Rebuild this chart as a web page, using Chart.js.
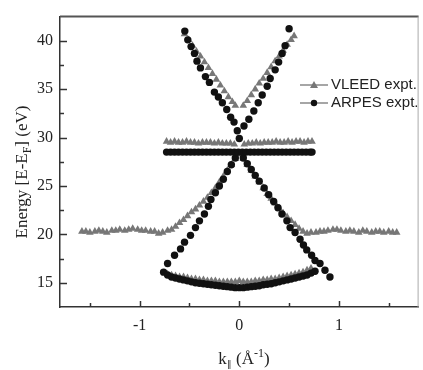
<!DOCTYPE html>
<html>
<head>
<meta charset="utf-8">
<script src="https://cdn.jsdelivr.net/npm/chart.js@4/dist/chart.umd.min.js"></script>
<style>
  html, body { margin: 0; padding: 0; background: #fff; }
  #wrap { width: 423px; height: 370px; position: relative; }
</style>
</head>
<body>
<div id="wrap"><canvas id="bands"></canvas></div>
<script>
// k (1/Å), E (eV) pairs, one array per branch

// VLEED (triangles)
var vleedFlatLeft = [[-1.58, 20.3], [-1.54, 20.3], [-1.50, 20.2], [-1.45, 20.3], [-1.41, 20.4], [-1.37, 20.3], [-1.33, 20.2],
  [-1.28, 20.4], [-1.24, 20.4], [-1.20, 20.5], [-1.15, 20.4], [-1.11, 20.5], [-1.07, 20.6], [-1.02, 20.5], [-0.98, 20.4],
  [-0.94, 20.4], [-0.89, 20.3], [-0.85, 20.3], [-0.81, 20.1], [-0.77, 20.2], [-0.72, 20.4]];
var vleedRiseLeft = [[-0.68, 20.5], [-0.64, 20.8], [-0.60, 21.2], [-0.56, 21.5], [-0.52, 21.9], [-0.48, 22.3], [-0.44, 22.6],
  [-0.40, 23.0], [-0.36, 23.4], [-0.32, 23.8], [-0.28, 24.3], [-0.24, 24.8], [-0.20, 25.4], [-0.16, 26.0], [-0.12, 26.6],
  [-0.08, 27.2], [-0.04, 27.8], [0.00, 28.3]];
var vleedFallRight = [[0.04, 27.8], [0.08, 27.2], [0.12, 26.6], [0.16, 26.0], [0.20, 25.4], [0.24, 24.8], [0.28, 24.2],
  [0.32, 23.7], [0.36, 23.2], [0.40, 22.7], [0.44, 22.2], [0.48, 21.8], [0.52, 21.4], [0.56, 21.0], [0.60, 20.6], [0.64, 20.3]];
var vleedFlatRight = [[0.68, 20.1], [0.72, 20.2], [0.77, 20.2], [0.81, 20.3], [0.85, 20.3], [0.89, 20.4], [0.94, 20.5],
  [0.98, 20.5], [1.02, 20.4], [1.07, 20.3], [1.11, 20.4], [1.15, 20.3], [1.20, 20.2], [1.24, 20.4], [1.28, 20.3],
  [1.33, 20.2], [1.37, 20.3], [1.41, 20.3], [1.45, 20.2], [1.50, 20.3], [1.54, 20.2], [1.58, 20.2]];
var vleedUpperLeft = [[-0.55, 40.7], [-0.51, 40.1], [-0.47, 39.5], [-0.43, 38.9], [-0.39, 38.4], [-0.35, 37.8], [-0.31, 37.2],
  [-0.27, 36.6], [-0.23, 36.0], [-0.19, 35.4], [-0.15, 34.8], [-0.11, 34.2], [-0.07, 33.7], [-0.04, 33.3]];
var vleedUpperRight = [[0.04, 33.3], [0.08, 33.8], [0.12, 34.4], [0.16, 35.0], [0.20, 35.6], [0.24, 36.1], [0.28, 36.7],
  [0.32, 37.3], [0.36, 37.9], [0.40, 38.4], [0.44, 39.0], [0.48, 39.6], [0.52, 40.1], [0.55, 40.5]];
var vleedFlat29 = [[-0.73, 29.6], [-0.69, 29.5], [-0.65, 29.6], [-0.61, 29.5], [-0.57, 29.5], [-0.53, 29.6], [-0.49, 29.5],
  [-0.45, 29.5], [-0.41, 29.4], [-0.37, 29.5], [-0.33, 29.5], [-0.29, 29.5], [-0.25, 29.4], [-0.21, 29.5], [-0.17, 29.4],
  [-0.13, 29.4], [-0.09, 29.4], [-0.05, 29.3], [0.05, 29.3], [0.09, 29.4], [0.13, 29.4], [0.17, 29.5], [0.21, 29.4],
  [0.25, 29.5], [0.29, 29.5], [0.33, 29.5], [0.37, 29.6], [0.41, 29.5], [0.45, 29.5], [0.49, 29.6], [0.53, 29.5],
  [0.57, 29.6], [0.61, 29.6], [0.65, 29.5], [0.69, 29.6], [0.73, 29.6]];
var vleedBottom = [[-0.72, 15.9], [-0.68, 15.8], [-0.64, 15.7], [-0.60, 15.6], [-0.56, 15.6], [-0.52, 15.5], [-0.48, 15.4],
  [-0.44, 15.4], [-0.40, 15.3], [-0.36, 15.3], [-0.32, 15.2], [-0.28, 15.2], [-0.24, 15.2], [-0.20, 15.1], [-0.16, 15.1],
  [-0.12, 15.1], [-0.08, 15.1], [-0.04, 15.1], [0.00, 15.2], [0.04, 15.1], [0.08, 15.1], [0.12, 15.1], [0.16, 15.2],
  [0.20, 15.2], [0.24, 15.3], [0.28, 15.3], [0.32, 15.4], [0.36, 15.4], [0.40, 15.5], [0.44, 15.6], [0.48, 15.7],
  [0.52, 15.8], [0.56, 15.9], [0.60, 16.0], [0.64, 16.1], [0.68, 16.3], [0.72, 16.5]];

// ARPES (circles)
var arpesUpperLeft = [[-0.547, 41.0], [-0.517, 40.1], [-0.484, 39.4], [-0.45, 38.7], [-0.425, 37.9], [-0.39, 37.2],
  [-0.34, 36.3], [-0.30, 35.7], [-0.25, 34.7], [-0.21, 34.2], [-0.17, 33.6], [-0.126, 32.9], [-0.087, 32.1],
  [-0.053, 31.6], [-0.02, 30.7], [0.00, 29.9]];
var arpesUpperRight = [[0.047, 31.2], [0.096, 31.9], [0.146, 32.75], [0.19, 33.6], [0.23, 34.4], [0.28, 35.3],
  [0.31, 36.1], [0.36, 37.0], [0.395, 37.8], [0.43, 38.7], [0.46, 39.5], [0.50, 41.25]];
var arpesRiseLeft = [[-0.72, 17.0], [-0.65, 17.85], [-0.59, 18.5], [-0.55, 19.2], [-0.49, 19.9], [-0.44, 20.7],
  [-0.40, 21.4], [-0.35, 22.1], [-0.31, 22.9], [-0.285, 23.6], [-0.24, 24.3], [-0.20, 25.0], [-0.16, 25.7],
  [-0.12, 26.5], [-0.08, 27.2], [-0.04, 27.9]];
var arpesFallRight = [[0.04, 27.9], [0.08, 27.3], [0.12, 26.7], [0.16, 26.1], [0.20, 25.5], [0.25, 24.8], [0.295, 24.1],
  [0.345, 23.4], [0.388, 22.75], [0.428, 22.1], [0.478, 21.4], [0.51, 20.7], [0.56, 20.2], [0.61, 19.5], [0.644, 18.9],
  [0.677, 18.4], [0.726, 17.85], [0.76, 17.3], [0.81, 17.0], [0.86, 16.3], [0.91, 15.6]];
var arpesFlat28 = [[-0.73, 28.5], [-0.69, 28.5], [-0.65, 28.5], [-0.61, 28.5], [-0.57, 28.5], [-0.53, 28.5], [-0.49, 28.5],
  [-0.45, 28.5], [-0.41, 28.5], [-0.37, 28.5], [-0.33, 28.5], [-0.29, 28.5], [-0.25, 28.5], [-0.21, 28.5], [-0.17, 28.5],
  [-0.13, 28.5], [-0.09, 28.5], [-0.05, 28.5], [-0.01, 28.5], [0.03, 28.5], [0.07, 28.5], [0.11, 28.5], [0.15, 28.5],
  [0.19, 28.5], [0.23, 28.5], [0.27, 28.5], [0.31, 28.5], [0.35, 28.5], [0.39, 28.5], [0.43, 28.5], [0.47, 28.5],
  [0.51, 28.5], [0.55, 28.5], [0.59, 28.5], [0.63, 28.5], [0.67, 28.5], [0.71, 28.5], [0.73, 28.5]];
var arpesBottom = [[-0.76, 16.1], [-0.72, 15.8], [-0.68, 15.6], [-0.64, 15.5], [-0.60, 15.4], [-0.56, 15.3], [-0.52, 15.2],
  [-0.48, 15.1], [-0.44, 15.0], [-0.40, 14.95], [-0.36, 14.9], [-0.32, 14.85], [-0.28, 14.8], [-0.24, 14.75],
  [-0.20, 14.7], [-0.16, 14.65], [-0.12, 14.6], [-0.08, 14.55], [-0.04, 14.5], [0.00, 14.5], [0.04, 14.5],
  [0.08, 14.55], [0.12, 14.6], [0.16, 14.65], [0.20, 14.7], [0.24, 14.8], [0.28, 14.85], [0.32, 14.9], [0.36, 15.0],
  [0.40, 15.1], [0.44, 15.2], [0.48, 15.3], [0.52, 15.4], [0.56, 15.5], [0.60, 15.6], [0.64, 15.7], [0.68, 15.8],
  [0.72, 16.0], [0.76, 16.2]];

// axis ticks
var xTicks = [-1.5, -1, -0.5, 0, 0.5, 1, 1.5];
var yTicks = [15, 17.5, 20, 22.5, 25, 27.5, 30, 32.5, 35, 37.5, 40];

function toPoints(branches) {
  var out = [];
  branches.forEach(function(b) {
    b.forEach(function(p) { out.push({ x: p[0], y: p[1] }); });
  });
  return out;
}

var vleedColor = '#777777';
var arpesColor = '#111111';

// box, inward ticks, axis titles and legend
var decorations = {
  id: 'decorations',
  afterDraw: function(chart) {
    var ctx = chart.ctx;
    var a = chart.chartArea;
    var xs = chart.scales.x, ys = chart.scales.y;
    ctx.save();

    ctx.strokeStyle = '#555';
    ctx.lineWidth = 2;
    ctx.beginPath();
    ctx.moveTo(a.left, a.top);
    ctx.lineTo(a.right, a.top);
    ctx.stroke();
    ctx.strokeStyle = '#aaa';
    ctx.lineWidth = 1;
    ctx.beginPath();
    ctx.moveTo(a.right - 0.5, a.top);
    ctx.lineTo(a.right - 0.5, a.bottom);
    ctx.stroke();

    ctx.strokeStyle = '#333';
    ctx.lineWidth = 1.5;
    xTicks.forEach(function(v) {
      var px = Math.round(xs.getPixelForValue(v)) + 0.5;
      var len = Number.isInteger(v) ? 6 : 4;
      ctx.beginPath();
      ctx.moveTo(px, a.bottom);
      ctx.lineTo(px, a.bottom - len);
      ctx.stroke();
    });
    yTicks.forEach(function(v) {
      var py = Math.round(ys.getPixelForValue(v)) + 0.5;
      var len = v % 5 === 0 ? 7 : 4;
      ctx.beginPath();
      ctx.moveTo(a.left, py);
      ctx.lineTo(a.left + len, py);
      ctx.stroke();
    });

    // axis titles with sub/superscripts
    function rich(parts, cx, cy) {
      var w = 0;
      parts.forEach(function(p) {
        ctx.font = p.size + 'px "Liberation Serif"';
        p.w = ctx.measureText(p.t).width;
        w += p.w;
      });
      var x = cx - w / 2;
      ctx.textBaseline = 'alphabetic';
      ctx.textAlign = 'left';
      parts.forEach(function(p) {
        ctx.font = p.size + 'px "Liberation Serif"';
        ctx.fillText(p.t, x, cy + (p.dy || 0));
        x += p.w;
      });
    }
    ctx.fillStyle = '#222';
    ctx.save();
    ctx.translate(27, 172);
    ctx.rotate(-Math.PI / 2);
    rich([
      { t: 'Energy [E-E', size: 17 },
      { t: 'F', size: 12, dy: 4 },
      { t: '] (eV)', size: 17 }
    ], 0, 0);
    ctx.restore();
    rich([
      { t: 'k', size: 17 },
      { t: '\u2225', size: 9, dy: 3 },
      { t: ' (\u00C5', size: 17 },
      { t: '-1', size: 12, dy: -7 },
      { t: ')', size: 17 }
    ], 244, 364);

    // legend: line with marker, then label
    var rows = [
      { ds: chart.data.datasets[1], y: 85 },
      { ds: chart.data.datasets[0], y: 103 }
    ];
    rows.forEach(function(r) {
      ctx.strokeStyle = '#888';
      ctx.lineWidth = 1.5;
      ctx.beginPath();
      ctx.moveTo(300, r.y);
      ctx.lineTo(328, r.y);
      ctx.stroke();
      ctx.fillStyle = r.ds.backgroundColor;
      ctx.beginPath();
      if (r.ds.pointStyle === 'triangle') {
        ctx.moveTo(314, r.y - 4);
        ctx.lineTo(318, r.y + 3);
        ctx.lineTo(310, r.y + 3);
        ctx.closePath();
      } else {
        ctx.arc(314, r.y, 3.2, 0, Math.PI * 2);
      }
      ctx.fill();
      ctx.fillStyle = '#222';
      ctx.font = '15px "Liberation Sans"';
      ctx.textBaseline = 'middle';
      ctx.textAlign = 'left';
      ctx.fillText(r.ds.label, 331, r.y);
    });
    ctx.restore();
  }
};

var ctx = document.getElementById('bands').getContext('2d');
new Chart(ctx, {
  type: 'scatter',
  data: {
    datasets: [{
      label: 'ARPES expt.',
      data: toPoints([arpesUpperLeft, arpesUpperRight, arpesRiseLeft, arpesFallRight, arpesFlat28, arpesBottom]),
      pointStyle: 'circle',
      pointRadius: 3.7,
      backgroundColor: arpesColor,
      borderColor: arpesColor,
      borderWidth: 0
    }, {
      label: 'VLEED expt.',
      data: toPoints([vleedFlatLeft, vleedRiseLeft, vleedFallRight, vleedFlatRight, vleedUpperLeft, vleedUpperRight, vleedFlat29, vleedBottom]),
      pointStyle: 'triangle',
      pointRadius: 4.4,
      backgroundColor: vleedColor,
      borderColor: vleedColor,
      borderWidth: 0
    }]
  },
  options: {
    responsive: true,
    maintainAspectRatio: false,
    animation: false,
    layout: { padding: { top: 13, right: 1, left: 0, bottom: 0 } },
    plugins: {
      legend: { display: false },
      tooltip: { enabled: false }
    },
    scales: {
      x: {
        type: 'linear',
        min: -1.8,
        max: 1.8,
        afterBuildTicks: function(scale) {
          scale.ticks = xTicks.map(function(v) { return { value: v }; });
        },
        afterFit: function(scale) { scale.height = 63; },
        grid: { display: false, drawTicks: false },
        border: { display: true, color: '#333', width: 1.5 },
        ticks: {
          autoSkip: false,
          maxRotation: 0,
          padding: 9,
          color: '#222',
          font: { family: 'Liberation Serif', size: 16 },
          callback: function(v) { return Number.isInteger(v) ? String(v) : ''; }
        }
      },
      y: {
        min: 12.5,
        max: 42.5,
        afterBuildTicks: function(scale) {
          scale.ticks = yTicks.map(function(v) { return { value: v }; });
        },
        afterFit: function(scale) { scale.width = 60; },
        grid: { display: false, drawTicks: false },
        border: { display: true, color: '#333', width: 1.5 },
        ticks: {
          autoSkip: false,
          padding: 7,
          color: '#222',
          font: { family: 'Liberation Serif', size: 16 },
          callback: function(v) { return v % 5 === 0 ? String(v) : ''; }
        }
      }
    }
  },
  plugins: [decorations]
});
</script>
</body>
</html>
